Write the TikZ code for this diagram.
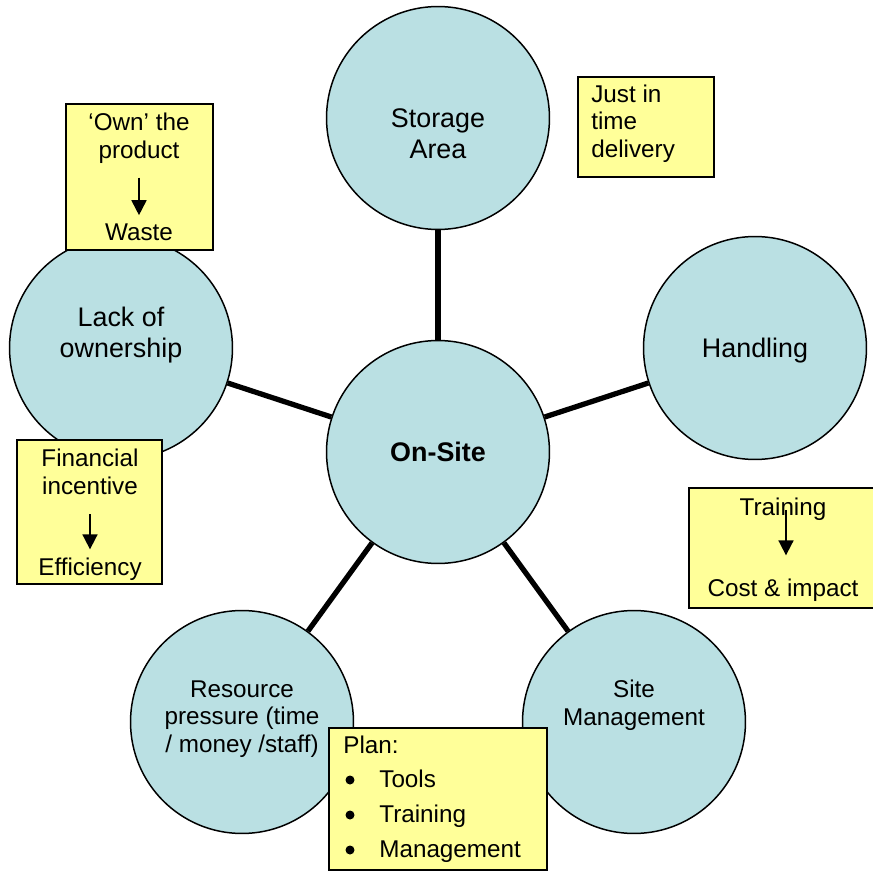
\documentclass[tikz,border=0pt]{standalone}
\usepackage{fontspec}
\setmainfont{Liberation Sans}
\usetikzlibrary{arrows.meta}
\definecolor{bubblecol}{RGB}{186,224,227}
\definecolor{notecol}{RGB}{255,255,153}

\begin{document}
\begin{tikzpicture}[x=0.02cm, y=-0.02cm,
  topic/.style={circle, draw, line width=0.85pt, fill=bubblecol, minimum size=4.46cm, inner sep=0pt},
  notebox/.style={rectangle, draw, line width=0.9pt, fill=notecol, inner sep=0pt},
  spoke/.style={line width=3pt},
  pointer/.style={-{Triangle[length=0.3cm,width=0.3cm]}, line width=1pt},
  bigtxt/.style={align=center, inner sep=0pt, font=\fontsize{15.3}{17.5}\selectfont},
  smalltxt/.style={align=center, inner sep=0pt, font=\fontsize{13.8}{15.8}\selectfont}]
\useasboundingbox (0,0) rectangle (873,872);

% circles
\node[topic] (storage) at (438,118) {};
\node[topic] (lack) at (121,348) {};
\node[topic] (handling) at (755,348) {};
\node[topic] (onsite) at (438,452) {};
\node[topic] (resource) at (242,722) {};
\node[topic] (sitemgmt) at (634,722) {};

\node[bigtxt] (storagetxt) at (438,134) {Storage\\Area};
\node[bigtxt] (lacktxt) at (121,335) {Lack of\\ownership};
\node[bigtxt] (handlingtxt) at (755,351) {Handling};
\node[bigtxt, font=\fontsize{15.3}{17.5}\selectfont\bfseries] (onsitetxt) at (438,452) {On-Site};
\node[smalltxt] (resourcetxt) at (242,719) {Resource\\pressure (time\\/ money /staff)};
\node[smalltxt] (sitetxt) at (634,705) {Site\\Management};

% spokes
\foreach \n in {storage,lack,handling,resource,sitemgmt}
  \draw[spoke] (onsite) -- (\n);

% notes
\node[notebox, minimum width=2.94cm, minimum height=2.92cm] (ownbox) at (139.5,177) {};
\node[smalltxt] (ownhead) at (139,138) {‘Own’ the\\product};
\node[smalltxt] (ownfoot) at (139,232) {Waste};
\draw[pointer, shorten <=0.28cm, shorten >=0.16cm] (ownhead) -- (ownfoot);

\node[notebox, minimum width=2.72cm, minimum height=2cm] (jitbox) at (646,127) {};
\node[smalltxt, align=left, anchor=west] (jittxt) at (591,123.5) {Just in\\time\\delivery};

\node[notebox, minimum width=2.9cm, minimum height=2.88cm] (finbox) at (89.5,512) {};
\node[smalltxt] (finhead) at (90,472) {Financial\\incentive};
\node[smalltxt] (finfoot) at (90,569) {Efficiency};
\draw[pointer, shorten <=0.38cm, shorten >=0.16cm] (finhead) -- (finfoot);

\node[notebox, minimum width=3.72cm, minimum height=2.4cm] (trainbox) at (782,548) {};
\node[smalltxt] (traintxt) at (783,509) {Training};
\node[smalltxt] (costtxt) at (783,590) {Cost \& impact};
\draw[pointer, shorten <=0.02cm, shorten >=0.46cm] ([xshift=0.06cm]traintxt.center) -- ([xshift=0.06cm]costtxt.north);

\node[notebox, minimum width=4.36cm, minimum height=2.84cm] (planbox) at (438,799) {};
\node[smalltxt, anchor=base west] (plantxt) at (343,753) {Plan:};
\foreach \t [count=\i] in {Tools,Training,Management}{
  \fill (350,745+35*\i) circle (0.09cm);
  \node[smalltxt, anchor=base west] (plan\i) at (379,752+35*\i) {\t};
}
\end{tikzpicture}
\end{document}
